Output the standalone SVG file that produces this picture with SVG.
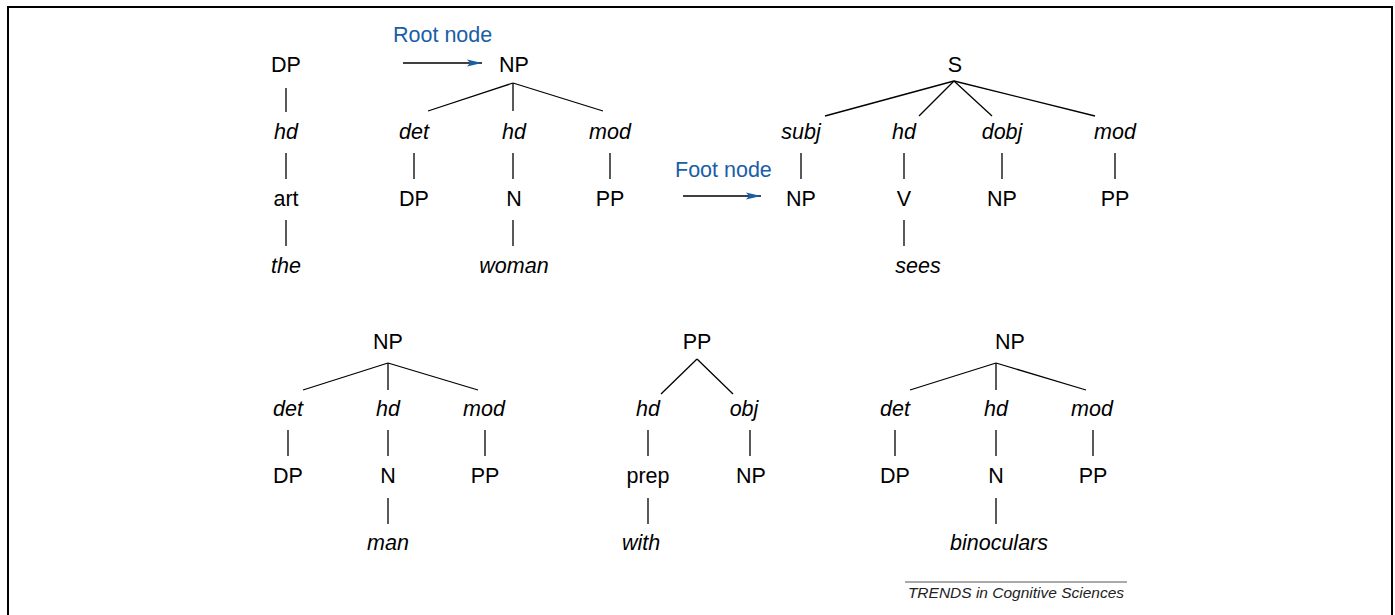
<svg xmlns="http://www.w3.org/2000/svg" width="1395" height="615" viewBox="0 0 1395 615">
<style>
text{font-family:"Liberation Sans",Arial,sans-serif;font-size:21.5px;fill:#000;text-anchor:middle}
.i{font-style:italic}
.b{fill:#1a5ea6;text-anchor:start}
.c line{stroke:#000;stroke-width:1.3}
.a{stroke:#1a5ea6;stroke-width:1.5}
</style>
<defs>
<marker id="ah" markerWidth="15" markerHeight="8" refX="15" refY="4" orient="auto" markerUnits="userSpaceOnUse">
<path d="M0,0.5 L15,4 L0,7.5 L3,4 Z" fill="#1a5ea6"/>
</marker>
</defs>
<rect width="1395" height="615" fill="#fff"/>
<path d="M8,615 V7 H1392 V615" fill="none" stroke="#000" stroke-width="2"/>

<g id="connectors" class="c">
<line x1="286" y1="88" x2="286" y2="112"/>
<line x1="286" y1="153" x2="286" y2="179"/>
<line x1="286" y1="220" x2="286" y2="246"/>

<line x1="513" y1="83" x2="428" y2="111"/>
<line x1="513" y1="83" x2="513" y2="111"/>
<line x1="513" y1="83" x2="603" y2="111"/>
<line x1="414" y1="153" x2="414" y2="179"/>
<line x1="513" y1="153" x2="513" y2="179"/>
<line x1="610" y1="153" x2="610" y2="179"/>
<line x1="513" y1="220" x2="513" y2="246"/>

<line x1="954" y1="81" x2="825" y2="116"/>
<line x1="954" y1="81" x2="919" y2="116"/>
<line x1="954" y1="81" x2="992" y2="116"/>
<line x1="954" y1="81" x2="1095" y2="116"/>
<line x1="801" y1="153" x2="801" y2="179"/>
<line x1="904" y1="153" x2="904" y2="179"/>
<line x1="1002" y1="153" x2="1002" y2="179"/>
<line x1="1115" y1="153" x2="1115" y2="179"/>
<line x1="904" y1="220" x2="904" y2="246"/>

<line x1="388" y1="363" x2="303" y2="390"/>
<line x1="388" y1="363" x2="388" y2="390"/>
<line x1="388" y1="363" x2="478" y2="390"/>
<line x1="288" y1="430" x2="288" y2="456"/>
<line x1="388" y1="430" x2="388" y2="456"/>
<line x1="485" y1="430" x2="485" y2="456"/>
<line x1="388" y1="498" x2="388" y2="524"/>

<line x1="697" y1="359" x2="661" y2="394"/>
<line x1="697" y1="359" x2="733" y2="394"/>
<line x1="648" y1="430" x2="648" y2="456"/>
<line x1="750" y1="430" x2="750" y2="456"/>
<line x1="648" y1="498" x2="648" y2="524"/>

<line x1="996" y1="363" x2="910" y2="390"/>
<line x1="996" y1="363" x2="996" y2="390"/>
<line x1="996" y1="363" x2="1086" y2="390"/>
<line x1="895" y1="430" x2="895" y2="456"/>
<line x1="996" y1="430" x2="996" y2="456"/>
<line x1="1093" y1="430" x2="1093" y2="456"/>
<line x1="996" y1="498" x2="996" y2="524"/>

<line class="a" x1="403" y1="63" x2="482" y2="63" marker-end="url(#ah)"/>
<line class="a" x1="683" y1="196" x2="761" y2="196" marker-end="url(#ah)"/>
</g>

<g id="tree1">
<text x="286" y="72">DP</text>
<text class="i" x="286" y="139">hd</text>
<text x="286" y="206">art</text>
<text class="i" x="286" y="273">the</text>
</g>

<g id="tree2">
<text x="514" y="72">NP</text>
<text class="i" x="414" y="139">det</text>
<text class="i" x="514" y="139">hd</text>
<text class="i" x="610" y="139">mod</text>
<text x="414" y="206">DP</text>
<text x="514" y="206">N</text>
<text x="610" y="206">PP</text>
<text class="i" x="514" y="273">woman</text>
</g>

<g id="root-label">
<text class="b" x="393" y="42">Root node</text>
</g>
<g id="foot-label">
<text class="b" x="675" y="177">Foot node</text>
</g>

<g id="tree3">
<text x="955" y="72">S</text>
<text class="i" x="801" y="139">subj</text>
<text class="i" x="904" y="139">hd</text>
<text class="i" x="1002" y="139">dobj</text>
<text class="i" x="1115" y="139">mod</text>
<text x="801" y="206">NP</text>
<text x="904" y="206">V</text>
<text x="1002" y="206">NP</text>
<text x="1115" y="206">PP</text>
<text class="i" x="918" y="273">sees</text>
</g>

<g id="tree4">
<text x="388" y="349">NP</text>
<text class="i" x="288" y="416">det</text>
<text class="i" x="388" y="416">hd</text>
<text class="i" x="484" y="416">mod</text>
<text x="288" y="483">DP</text>
<text x="388" y="483">N</text>
<text x="485" y="483">PP</text>
<text class="i" x="388" y="550">man</text>
</g>

<g id="tree5">
<text x="697" y="349">PP</text>
<text class="i" x="648" y="416">hd</text>
<text class="i" x="744" y="416">obj</text>
<text x="648" y="483">prep</text>
<text x="751" y="483">NP</text>
<text class="i" x="641" y="550">with</text>
</g>

<g id="tree6">
<text x="1010" y="349">NP</text>
<text class="i" x="895" y="416">det</text>
<text class="i" x="996" y="416">hd</text>
<text class="i" x="1092" y="416">mod</text>
<text x="895" y="483">DP</text>
<text x="996" y="483">N</text>
<text x="1093" y="483">PP</text>
<text class="i" x="999" y="550">binoculars</text>
</g>

<g id="credit">
<line x1="905" y1="582" x2="1127" y2="582" stroke="#555" stroke-width="1"/>
<text class="i" x="1016" y="598" style="font-size:15.5px;fill:#222">TRENDS in Cognitive Sciences</text>
</g>
</svg>
